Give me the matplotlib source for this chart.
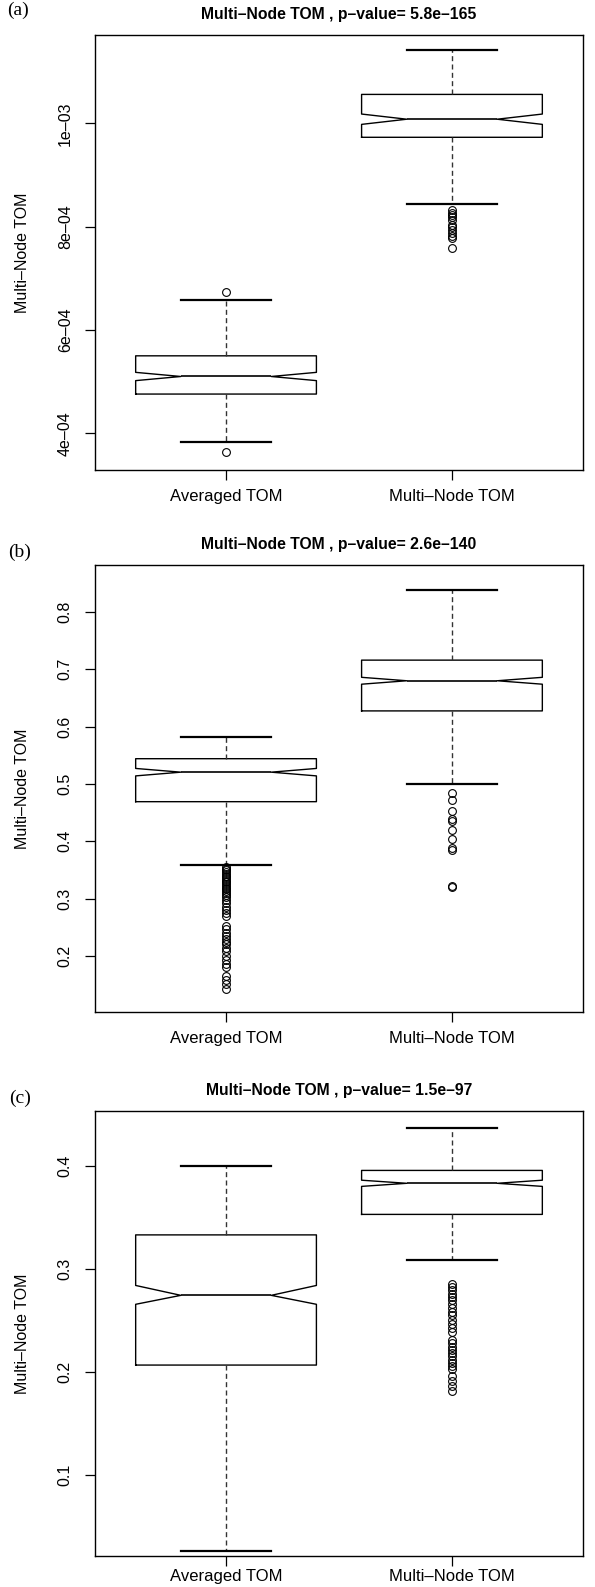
import matplotlib.pyplot as plt

plt.rcParams['font.family'] = ['Liberation Sans', 'DejaVu Sans']

W, H = 595, 1587

panel_tags = ['(a)', '(b)', '(c)']
titles = ['Multi–Node TOM , p–value= 5.8e–165',
          'Multi–Node TOM , p–value= 2.6e–140',
          'Multi–Node TOM , p–value= 1.5e–97']
groups = ['Averaged TOM', 'Multi–Node TOM']

# box stats: [whislo, q1, cilo, med, cihi, q3, whishi]
a_avg = [3.83e-4, 4.76e-4, 5.02e-4, 5.10e-4, 5.18e-4, 5.50e-4, 6.58e-4]
a_avg_out = [6.73e-4, 3.63e-4]
a_multi = [8.44e-4, 9.73e-4, 9.98e-4, 1.008e-3, 1.018e-3, 1.056e-3, 1.141e-3]
a_multi_out = [8.322e-4, 8.270e-4, 8.225e-4, 8.181e-4, 8.129e-4, 8.032e-4,
               7.987e-4, 7.935e-4, 7.883e-4, 7.819e-4, 7.774e-4, 7.581e-4]

b_avg = [0.358, 0.469, 0.514, 0.5205, 0.527, 0.544, 0.5815]
b_avg_out = [0.355, 0.352, 0.349, 0.346, 0.343, 0.340, 0.337, 0.334, 0.331,
             0.328, 0.325, 0.322, 0.319, 0.316, 0.313, 0.310, 0.306, 0.302,
             0.298, 0.292, 0.285, 0.280, 0.275, 0.270, 0.252, 0.246, 0.240,
             0.235, 0.230, 0.225, 0.220, 0.214, 0.208, 0.200, 0.193, 0.186,
             0.180, 0.165, 0.158, 0.150, 0.143]
b_multi = [0.4996, 0.6274, 0.674, 0.680, 0.686, 0.716, 0.838]
b_multi_out = [0.484, 0.472, 0.452, 0.439, 0.436, 0.420, 0.404, 0.388,
               0.385, 0.322, 0.320]

c_avg = [0.026, 0.2065, 0.2655, 0.2742, 0.2838, 0.3329, 0.3994]
c_avg_out = []
c_multi = [0.3089, 0.3528, 0.380, 0.383, 0.386, 0.3955, 0.437]
c_multi_out = [0.2855, 0.2823, 0.2790, 0.2758, 0.2727, 0.2694, 0.2662,
               0.2621, 0.2582, 0.2550, 0.2501, 0.2460, 0.2422, 0.2383,
               0.2309, 0.2277, 0.2245, 0.2213, 0.2181, 0.2149, 0.2116,
               0.2085, 0.2053, 0.2027, 0.1957, 0.1909, 0.1860, 0.1812]

y_limits = [(3.29e-4, 1.171e-3), (0.102, 0.882), (0.0211, 0.4532)]
y_ticks = [[4e-4, 6e-4, 8e-4, 1e-3],
           [0.2, 0.3, 0.4, 0.5, 0.6, 0.7, 0.8],
           [0.1, 0.2, 0.3, 0.4]]
y_ticklabels = [['4e–04', '6e–04', '8e–04', '1e–03'],
                ['0.2', '0.3', '0.4', '0.5', '0.6', '0.7', '0.8'],
                ['0.1', '0.2', '0.3', '0.4']]

panels = [((a_avg, a_avg_out), (a_multi, a_multi_out)),
          ((b_avg, b_avg_out), (b_multi, b_multi_out)),
          ((c_avg, c_avg_out), (c_multi, c_multi_out))]

# axes frames in pixels: (top, bottom)
frames = [(35, 470), (565, 1012), (1111, 1556)]
tag_pos = [(18, 10), (20, 552), (20, 1098)]
xlabel_pad = [6.5, 6.5, 2.5]
left, right = 95, 583


def make_stats(s, out, name):
    return dict(whislo=s[0], q1=s[1], cilo=s[2], med=s[3], cihi=s[4],
                q3=s[5], whishi=s[6], fliers=out, label=name)


fig = plt.figure(figsize=(W / 100, H / 100), dpi=100)

for i, (boxes, (top, bot)) in enumerate(zip(panels, frames)):
    ax = fig.add_axes([left / W, 1 - bot / H, (right - left) / W, (bot - top) / H])
    stats = [make_stats(s, out, g) for (s, out), g in zip(boxes, groups)]
    ax.bxp(stats, positions=[1, 2], widths=0.8, shownotches=True,
           boxprops=dict(color='black', lw=1.0),
           medianprops=dict(color='black', lw=1.2),
           whiskerprops=dict(color='#333333', lw=1.0, ls=(0, (3.6, 2.4))),
           capprops=dict(color='black', lw=1.6),
           flierprops=dict(marker='o', markerfacecolor='none',
                           markeredgecolor='black', markersize=5.6, mew=0.8))
    ax.set_xlim(0.42, 2.58)
    ax.set_ylim(*y_limits[i])
    ax.set_yticks(y_ticks[i])
    ax.set_yticklabels(y_ticklabels[i], rotation=90, va='center', fontsize=11.5)
    ax.set_xticks([1, 2])
    ax.set_xticklabels(groups, fontsize=12)
    ax.tick_params(axis='x', direction='out', length=7, width=0.9, pad=xlabel_pad[i])
    ax.tick_params(axis='y', direction='out', length=7, width=0.9, pad=9)
    for sp in ax.spines.values():
        sp.set_linewidth(1.0)
    ax.set_ylabel('Multi–Node TOM', fontsize=11.5)
    ax.yaxis.label.set_va('center')
    ax.yaxis.set_label_coords((23 - left) / (right - left), 0.5)
    ax.set_title(titles[i], fontsize=11.3, fontweight='bold', pad=11.5)
    tx, ty = tag_pos[i]
    fig.text(tx / W, 1 - ty / H, panel_tags[i], ha='center', va='center',
             fontsize=14, family=['Liberation Serif', 'DejaVu Serif'])

fig.savefig('out.png', dpi=100)
